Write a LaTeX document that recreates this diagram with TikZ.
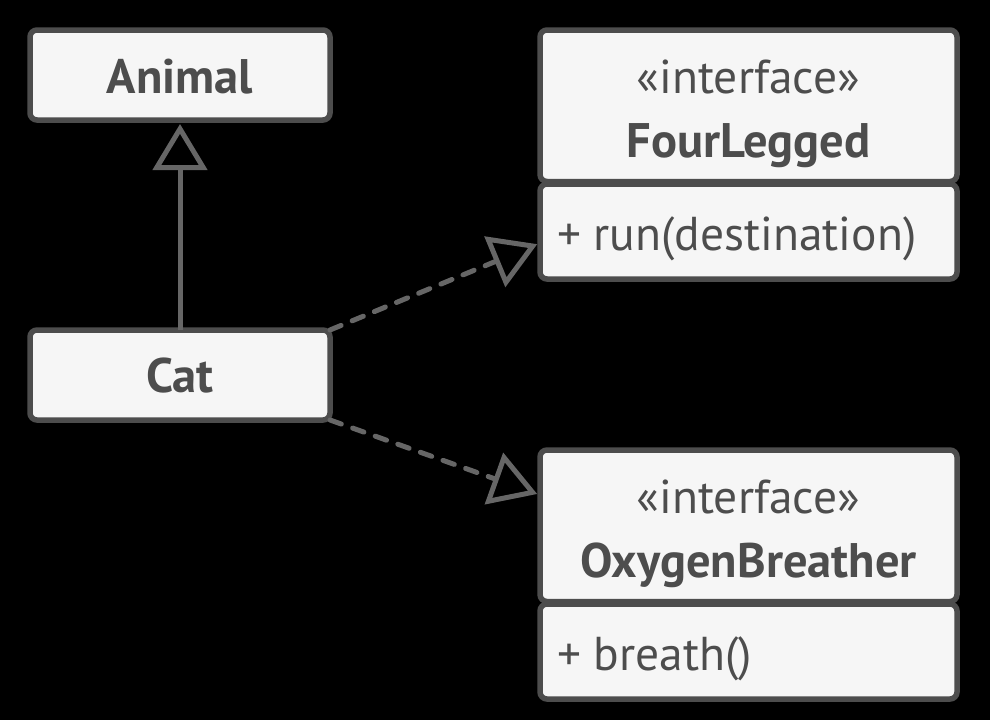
\documentclass[tikz,border=0pt]{standalone}
\usepackage{fontspec}
\setmainfont{PT Sans}
\usetikzlibrary{arrows.meta}
\definecolor{bord}{HTML}{4D4D4D}
\definecolor{fillc}{HTML}{F6F6F6}
\definecolor{conn}{HTML}{666666}
\begin{document}
\begin{tikzpicture}[x=1pt,y=-1pt,
  box/.style={draw=bord, fill=fillc, line width=5.5pt, rounded corners=7pt, inner sep=0pt, outer sep=0pt},
  txt/.style={text=bord, inner sep=0pt, outer sep=0pt, anchor=base, font=\fontsize{47.5}{47.5}\selectfont},
  btxt/.style={txt, font=\fontsize{48.5}{48.5}\selectfont\bfseries},
  mtxt/.style={txt, anchor=base west},
  conline/.style={draw=conn, line width=5pt},
  opentri/.style={-{Triangle[open, length=46pt, width=54pt, line join=miter]}},
  dashline/.style={conline, dash pattern=on 12pt off 12pt, line cap=round}]
\fill[black] (0,0) rectangle (990,720);
\useasboundingbox (0,0) rectangle (990,720);
% boxes
\node[box, minimum width=300pt, minimum height=90pt] (animal) at (180,75) {};
\node[box, minimum width=300pt, minimum height=90pt] (cat) at (180,375) {};
\node[box, minimum width=417pt, minimum height=151.5pt] (flt) at (748.5,105.75) {};
\node[box, minimum width=417pt, minimum height=95pt] (flm) at (748.5,231.5) {};
\node[box, minimum width=417pt, minimum height=151.5pt] (obt) at (748.5,525.75) {};
\node[box, minimum width=417pt, minimum height=95pt] (obm) at (748.5,651.5) {};
% texts
\node[btxt] (animalT) at (180,93) {Animal};
\node[btxt] (catT) at (180,392) {Cat};
\node[txt] (flS) at (748.5,93) {«interface»};
\node[btxt] (flN) at (748.5,157) {FourLegged};
\node[mtxt] (flM) at (557,250) {+ run(destination)};
\node[txt] (obS) at (748.5,513) {«interface»};
\node[btxt] (obN) at (748.5,577) {OxygenBreather};
\node[mtxt] (obM) at (557,670) {+ breath()};
% connectors
\draw[conline, opentri, shorten >=4pt] (cat.north) -- (animal.south);
\draw[dashline, opentri, shorten >=3pt] (cat.north east) -- ([yshift=-11.5pt]flm.west);
\draw[dashline, opentri, shorten >=3pt] (cat.south east) -- ([yshift=30.75pt]obt.west);
\end{tikzpicture}
\end{document}
